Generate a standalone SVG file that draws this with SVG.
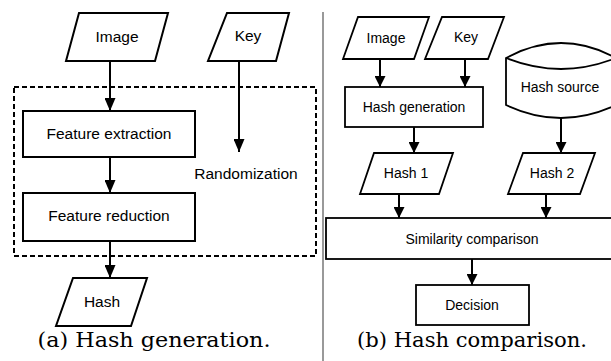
<svg xmlns="http://www.w3.org/2000/svg" width="611" height="361" viewBox="0 0 611 361">
<style>
.s{fill:#fff;stroke:#000;stroke-width:2}
.s2{fill:#fff;stroke:#000;stroke-width:1.8}
.t{font-family:"Liberation Sans",Arial,sans-serif;font-size:15.5px;text-anchor:middle;dominant-baseline:central;fill:#000}
.t2{font-family:"Liberation Sans",Arial,sans-serif;font-size:14px;text-anchor:middle;dominant-baseline:central;fill:#000}
.c{font-family:"DejaVu Serif","Liberation Serif",serif;font-size:21px;text-anchor:middle;fill:#000}
.e{stroke:#000;stroke-width:2;fill:none}
</style>
<defs>
<marker id="a" markerUnits="userSpaceOnUse" viewBox="0 0 13 11" refX="13" refY="5.5" markerWidth="13" markerHeight="11" orient="auto">
<path d="M0,0 L13,5.5 L0,11 Z" fill="#000"/>
</marker>
<marker id="b" markerUnits="userSpaceOnUse" viewBox="0 0 11 11" refX="11" refY="5.5" markerWidth="11" markerHeight="11" orient="auto">
<path d="M0,0 L11,5.5 L0,11 Z" fill="#000"/>
</marker>
</defs>
<rect width="611" height="361" fill="#fff"/>
<line x1="323" y1="12" x2="323" y2="361" stroke="#777" stroke-width="1.5"/>
<g id="randomization">
<rect x="14" y="87" width="302" height="169" fill="none" stroke="#000" stroke-width="2" stroke-dasharray="5,3"/>
<text class="t" x="246" y="173">Randomization</text>
</g>
<g id="connectors">
<line class="e" x1="110" y1="61" x2="110" y2="111" marker-end="url(#a)"/>
<line class="e" x1="239" y1="61" x2="239" y2="152" marker-end="url(#a)"/>
<line class="e" x1="110" y1="157" x2="110" y2="193" marker-end="url(#a)"/>
<line class="e" x1="110" y1="241" x2="110" y2="278" marker-end="url(#a)"/>
<line class="e" x1="380" y1="59" x2="380" y2="87" marker-end="url(#b)"/>
<line class="e" x1="465" y1="59" x2="465" y2="87" marker-end="url(#b)"/>
<line class="e" x1="414" y1="127" x2="414" y2="153" marker-end="url(#b)"/>
<line class="e" x1="561" y1="118" x2="561" y2="153" marker-end="url(#b)"/>
<line class="e" x1="399" y1="194" x2="399" y2="218" marker-end="url(#b)"/>
<line class="e" x1="546" y1="194" x2="546" y2="218" marker-end="url(#b)"/>
<line class="e" x1="472" y1="259" x2="472" y2="285" marker-end="url(#b)"/>
</g>
<g id="image-a">
<polygon class="s" points="79,13 168,13 155,61 66,61"/>
<text class="t" x="117" y="36">Image</text>
</g>
<g id="key-a">
<polygon class="s" points="227,13 289,13 276,61 208,61"/>
<text class="t" x="248" y="35">Key</text>
</g>
<g id="feature-extraction">
<rect class="s" x="23" y="111" width="172" height="46"/>
<text class="t" x="109" y="133">Feature extraction</text>
</g>
<g id="feature-reduction">
<rect class="s" x="23" y="193" width="172" height="48"/>
<text class="t" x="109" y="215">Feature reduction</text>
</g>
<g id="hash-a">
<polygon class="s" points="73,278 147,278 131,326 56,326"/>
<text class="t" x="102" y="301">Hash</text>
</g>
<g id="image-b">
<polygon class="s2" points="358,17 429,17 414,59 343,59"/>
<text class="t2" x="386" y="38">Image</text>
</g>
<g id="key-b">
<polygon class="s2" points="442,17 504,17 488,59 425,59"/>
<text class="t2" x="466" y="37">Key</text>
</g>
<g id="hash-source">
<path class="s2" d="M506,58 Q561,28 616,58 L616,105 Q561,131 506,105 Z"/>
<path class="s2" fill="none" d="M506,58 Q561,80 616,58"/>
<text class="t2" x="560" y="87">Hash source</text>
</g>
<g id="hash-generation">
<rect class="s2" x="345" y="87" width="138" height="40"/>
<text class="t2" x="414" y="107">Hash generation</text>
</g>
<g id="hash1">
<polygon class="s2" points="374,153 453,153 439,194 360,194"/>
<text class="t2" x="406" y="173">Hash 1</text>
</g>
<g id="hash2">
<polygon class="s2" points="523,153 595,153 580,194 508,194"/>
<text class="t2" x="552" y="173">Hash 2</text>
</g>
<g id="similarity">
<rect class="s2" x="326" y="218" width="290" height="41"/>
<text class="t2" x="472" y="239">Similarity comparison</text>
</g>
<g id="decision">
<rect class="s2" x="416" y="285" width="113" height="40"/>
<text class="t2" x="472" y="305">Decision</text>
</g>
<text class="c" x="154" y="347" textLength="233" lengthAdjust="spacingAndGlyphs">(a) Hash generation.</text>
<text class="c" x="472" y="347" textLength="230" lengthAdjust="spacingAndGlyphs">(b) Hash comparison.</text>
</svg>
